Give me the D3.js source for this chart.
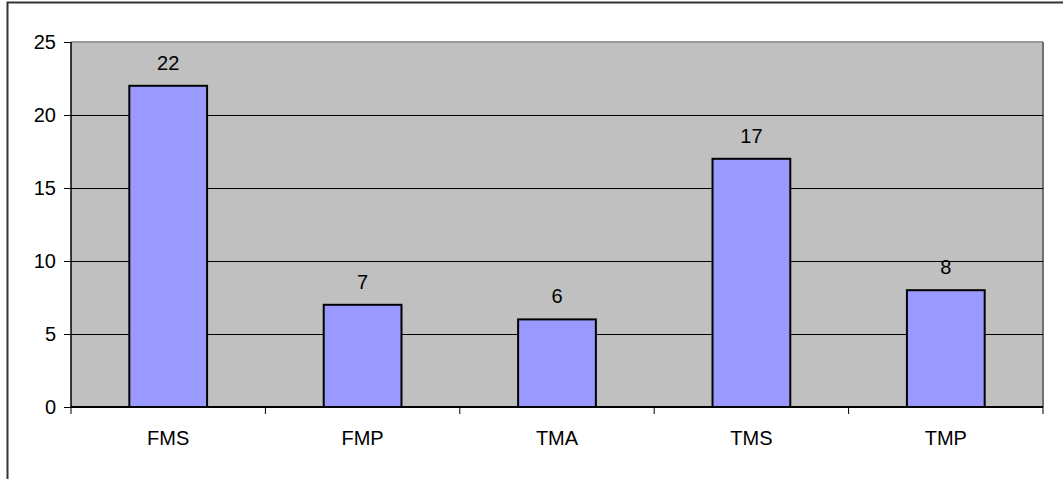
<!DOCTYPE html>
<html>
<head>
<meta charset="utf-8">
<script src="https://cdn.jsdelivr.net/npm/d3@7"></script>
<style>
  body { margin: 0; background: #fff; }
  svg text { font-family: "Liberation Sans", Arial, sans-serif; fill: #000; }
</style>
</head>
<body>
<div id="chart"></div>
<script>
// chart data
var categories = ["FMS", "FMP", "TMA", "TMS", "TMP"];
var values = [22, 7, 6, 17, 8];
var yTicks = [0, 5, 10, 15, 20, 25];

var width = 1063, height = 479;
var plot = { left: 71, right: 1043, top: 42, bottom: 407 };
var fontSize = "20px";

var svg = d3.select("#chart").append("svg")
    .attr("width", width)
    .attr("height", height);

// outer chart border (only top and left show in the picture)
svg.append("path")
    .attr("d", "M7.5,479 L7.5,2.5 L1063,2.5")
    .attr("fill", "none")
    .attr("stroke", "#333")
    .attr("stroke-width", 2);

var x = d3.scaleBand()
    .domain(categories)
    .range([plot.left, plot.right])
    .padding(0);

var y = d3.scaleLinear()
    .domain([0, 25])
    .range([plot.bottom, plot.top]);

// plot area
svg.append("rect")
    .attr("x", plot.left)
    .attr("y", plot.top)
    .attr("width", plot.right - plot.left)
    .attr("height", plot.bottom - plot.top)
    .attr("fill", "#c0c0c0");
svg.append("path")
    .attr("d", "M" + plot.left + "," + plot.top + "H" + plot.right)
    .attr("stroke", "#9a9a9a").attr("stroke-width", 2);
svg.append("path")
    .attr("d", "M" + plot.right + "," + plot.top + "V" + plot.bottom)
    .attr("stroke", "#707070").attr("stroke-width", 2);

// gridlines
svg.selectAll(".grid")
    .data(yTicks.filter(function(d) { return d > 0 && d < 25; }))
    .enter().append("line")
    .attr("class", "grid")
    .attr("x1", plot.left)
    .attr("x2", plot.right)
    .attr("y1", function(d) { return Math.round(y(d)) + 0.5; })
    .attr("y2", function(d) { return Math.round(y(d)) + 0.5; })
    .attr("stroke", "#000")
    .attr("stroke-width", 1);

// bars
var barW = x.bandwidth() * 0.4;
svg.selectAll(".bar")
    .data(values)
    .enter().append("rect")
    .attr("class", "bar")
    .attr("x", function(d, i) { return x(categories[i]) + (x.bandwidth() - barW) / 2; })
    .attr("y", function(d) { return y(d); })
    .attr("width", barW)
    .attr("height", function(d) { return y(0) - y(d); })
    .attr("fill", "#9999ff")
    .attr("stroke", "#000")
    .attr("stroke-width", 2);

// value labels
svg.selectAll(".val")
    .data(values)
    .enter().append("text")
    .attr("class", "val")
    .attr("x", function(d, i) { return x(categories[i]) + x.bandwidth() / 2; })
    .attr("y", function(d) { return y(d) - 16; })
    .attr("text-anchor", "middle")
    .style("font-size", fontSize)
    .text(function(d) { return d; });

// y axis
var yAxis = d3.axisLeft(y)
    .tickValues(yTicks)
    .tickSize(7)
    .tickPadding(8);
var gy = svg.append("g")
    .attr("transform", "translate(" + plot.left + ",0)")
    .call(yAxis);
gy.select(".domain").attr("stroke", "#000").attr("stroke-width", 1.5).attr("d", "M0," + plot.top + "V" + plot.bottom);
gy.selectAll(".tick line").attr("stroke", "#000");
gy.selectAll(".tick text").style("font-size", fontSize);

// x axis
var gx = svg.append("g")
    .attr("transform", "translate(0," + plot.bottom + ")");
gx.append("line")
    .attr("x1", plot.left).attr("x2", plot.right)
    .attr("y1", 0).attr("y2", 0)
    .attr("stroke", "#000").attr("stroke-width", 2);
var bounds = categories.map(function(c) { return x(c); }).concat([plot.right]);
gx.selectAll(".xtick")
    .data(bounds)
    .enter().append("line")
    .attr("class", "xtick")
    .attr("x1", function(d) { return d; })
    .attr("x2", function(d) { return d; })
    .attr("y1", 0).attr("y2", 7)
    .attr("stroke", "#000");
gx.selectAll(".xlab")
    .data(categories)
    .enter().append("text")
    .attr("class", "xlab")
    .attr("x", function(d) { return x(d) + x.bandwidth() / 2; })
    .attr("y", 38)
    .attr("text-anchor", "middle")
    .style("font-size", fontSize)
    .text(function(d) { return d; });
</script>
</body>
</html>
